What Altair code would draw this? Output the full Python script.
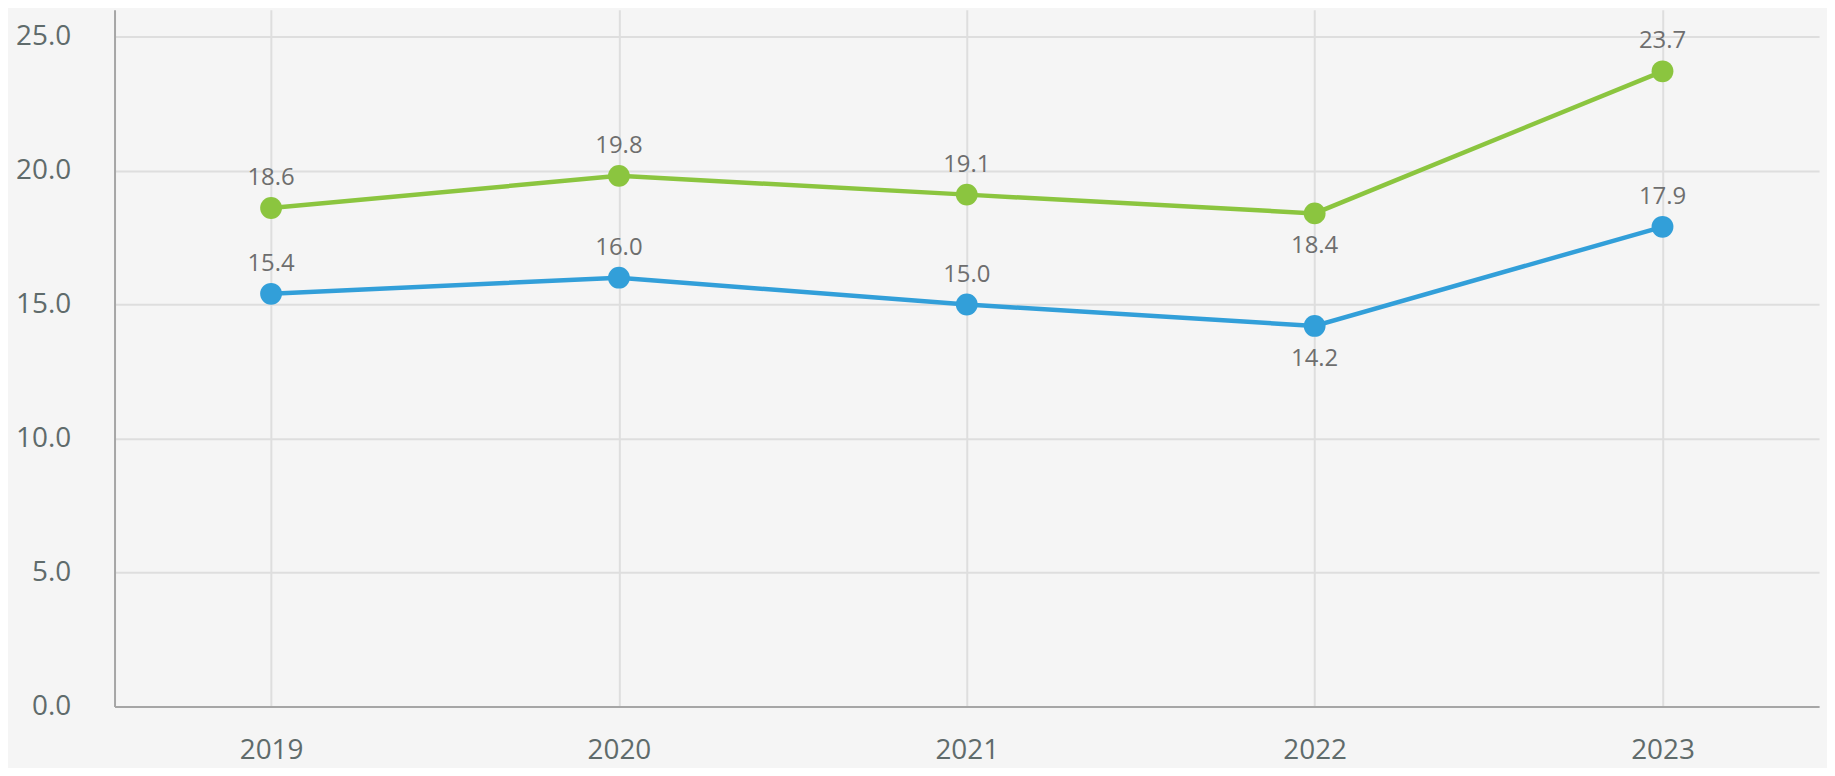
import altair as alt
import pandas as pd

years = ["2019", "2020", "2021", "2022", "2023"]
green_vals = [18.6, 19.8, 19.1, 18.4, 23.7]
blue_vals = [15.4, 16.0, 15.0, 14.2, 17.9]
green_pos = ["above", "above", "above", "below", "above"]
blue_pos = ["above", "above", "above", "below", "above"]
series_names = ["green", "blue"]
series_colors = ["#8bc53f", "#329fd9"]
y_ticks = [0, 5, 10, 15, 20, 25]

rows = []
for name, vals, poss in [("green", green_vals, green_pos), ("blue", blue_vals, blue_pos)]:
    for yr, v, p in zip(years, vals, poss):
        rows.append({"year": yr, "value": v, "series": name, "pos": p})
df = pd.DataFrame(rows)

FONT = "Open Sans"

x_enc = alt.X("year:N", sort=years,
              scale=alt.Scale(type="point", padding=0.45),
              axis=alt.Axis(title=None, labelAngle=0, ticks=False, domain=True,
                            domainColor="#a6a6a6", domainWidth=2,
                            grid=True, gridColor="#dedede", gridWidth=2,
                            labelFont=FONT, labelFontSize=28, labelColor="#5f6b6b",
                            labelPadding=30, labelBaseline="top"))
y_enc = alt.Y("value:Q",
              scale=alt.Scale(domain=[0, 26], nice=False, zero=True),
              axis=alt.Axis(title=None, values=y_ticks, format=".1f", ticks=False,
                            domain=True, domainColor="#a6a6a6", domainWidth=2,
                            grid=True, gridColor="#dedede", gridWidth=2,
                            labelFont=FONT, labelFontSize=28, labelColor="#5f6b6b",
                            labelPadding=44))
color_enc = alt.Color("series:N", scale=alt.Scale(domain=series_names, range=series_colors),
                      legend=None)

base = alt.Chart(df)

lines = base.mark_line(strokeWidth=4.5).encode(x=x_enc, y=y_enc, color=color_enc, detail="series:N")
points = base.mark_circle(size=480, opacity=1).encode(x=x_enc, y=y_enc, color=color_enc)

text_above = base.transform_filter(alt.datum.pos == "above").mark_text(
    font=FONT, fontSize=24, color="#6e6e6e", dy=-23, baseline="alphabetic", align="center"
).encode(x=x_enc, y=y_enc, text=alt.Text("value:Q", format=".1f"))

text_below = base.transform_filter(alt.datum.pos == "below").mark_text(
    font=FONT, fontSize=24, color="#6e6e6e", dy=21, baseline="top", align="center"
).encode(x=x_enc, y=y_enc, text=alt.Text("value:Q", format=".1f"))

chart = alt.layer(lines, points, text_above, text_below).properties(
    width=1712, height=700,
    background="#f5f5f5",
    autosize=alt.AutoSizeParams(type="none"),
    padding={"left": 107, "top": 0, "right": 8, "bottom": 60},
).configure_view(stroke=None)

chart.save("out.html", embed_options={"renderer": "svg", "actions": False})
